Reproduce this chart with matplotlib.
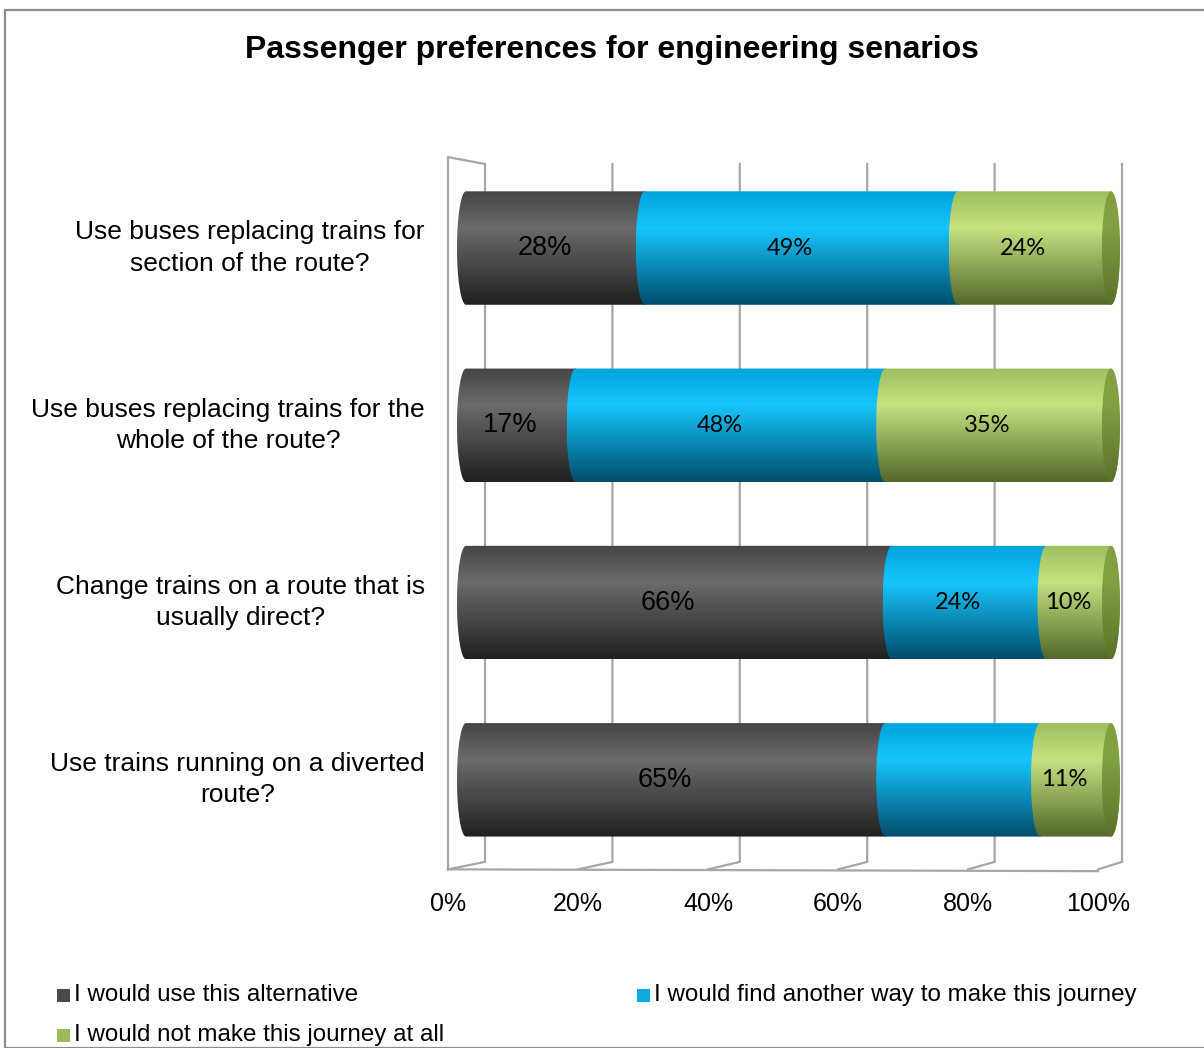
import matplotlib.pyplot as plt
import numpy as np
from matplotlib.patches import Polygon, Ellipse, Rectangle
from matplotlib.colors import to_rgb

# ---- data ----
categories = ["Use buses replacing trains for\nsection of the route?",
              "Use buses replacing trains for the\nwhole of the route?",
              "Change trains on a route that is\nusually direct?",
              "Use trains running on a diverted\nroute?"]
series_names = ["I would use this alternative",
                "I would find another way to make this journey",
                "I would not make this journey at all"]
use_alt = [28, 17, 66, 65]
other_way = [49, 48, 24, 24]
not_at_all = [24, 35, 10, 11]
hidden_labels = [(3, 1)]      # the blue label on the last row is not shown
tick_values = [0, 20, 40, 60, 80, 100]
tick_labels = ["0%", "20%", "40%", "60%", "80%", "100%"]

W, H = 1204, 1048
fig = plt.figure(figsize=(W / 100, H / 100), dpi=100)
fx = lambda px: px / W
fy = lambda py: 1 - py / H

# outer border
fig.patches.append(Rectangle((fx(5), 0), 1.0, fy(10), transform=fig.transFigure,
                             fill=False, ec="#8c8c8c", lw=1.6))

fig.text(fx(612), fy(50), "Passenger preferences for engineering senarios",
         ha="center", va="center", fontsize=23, fontweight="bold",
         family="Liberation Sans")

# axes: data x 0 -> px 466, 100 -> px 1111 ; rows spaced 177 px
ax = fig.add_axes([fx(440), fy(880), fx(1130) - fx(440), fy(150) - fy(880)])
ax.set_xlim(-4.03, 102.95)
ax.set_ylim(3.565, -0.553)
ax.axis("off")

# ---- 3D style frame (back wall gridlines + floor) ----
back = lambda v: 2.95 + 0.9876 * v
front = lambda v: -2.79 + 1.0078 * v
y_top_back, y_top_front = -0.474, -0.513
y_floor_back, y_floor_front = 3.463, 3.505
gc = "#a6a6a6"
for v in tick_values:
    ax.plot([back(v), back(v), front(v)], [y_top_back, y_floor_back, y_floor_front],
            color=gc, lw=1.6, zorder=1, clip_on=False, solid_joinstyle="miter")
ax.plot([front(0), front(0), back(0)], [y_floor_front, y_top_front, y_top_back],
        color=gc, lw=1.6, zorder=1, clip_on=False)
ax.plot([front(0), front(100)], [y_floor_front, y_floor_front + 0.01],
        color=gc, lw=1.6, zorder=1, clip_on=False)
for v, lab in zip(tick_values, tick_labels):
    ax.text(front(v), 3.70, lab, ha="center", va="center", fontsize=18,
            family="Liberation Sans", clip_on=False)

# ---- cylinders ----
grads = [("#454545", "#6b6b6b", "#202020"),
         ("#00a2dc", "#16c6ff", "#004d6b"),
         ("#9fbf5e", "#c6e280", "#53682a")]
label_fonts = [("Liberation Sans", 19.5), ("Lato", 17), ("Lato", 17)]
cap_colors = ("#80a042", "#5a7228")


def gradient(top, mid, bot, n=120):
    t = np.linspace(0, 1, n)
    a, b, c = np.array(to_rgb(top)), np.array(to_rgb(mid)), np.array(to_rgb(bot))
    out = np.empty((n, 1, 3))
    for i, tt in enumerate(t):
        if tt < 0.32:
            s = tt / 0.32
            out[i, 0] = a * (1 - s) + b * s
        else:
            s = (tt - 0.32) / 0.68
            out[i, 0] = b * (1 - s) + c * s
    return out


bar_h = 0.64
ew = 1.4  # half-width of the elliptical ends (data units)
lab_shift = -1.7  # labels sit a little left of the segment centre
th = np.linspace(np.pi / 2, 3 * np.pi / 2, 40)
data = np.array([use_alt, other_way, not_at_all], dtype=float)
totals = data.sum(axis=0)
for r in range(len(categories)):
    left = 0.0
    for s in range(3):
        w = data[s, r] / totals[r] * 100
        x0, x1 = left, left + w
        hh = bar_h / 2
        lx = x0 + ew * np.cos(th)
        ly = r - hh * np.sin(th)
        rx = x1 - ew * np.cos(th)
        ry = r + hh * np.sin(th)
        pts = np.column_stack([np.r_[lx, rx], np.r_[ly, ry]])
        poly = Polygon(pts, closed=True, fc="none", ec="none", zorder=3 + s)
        ax.add_patch(poly)
        im = ax.imshow(gradient(*grads[s]), extent=(x0 - ew, x1 + ew, r + hh, r - hh),
                       origin="upper", aspect="auto", zorder=3 + s, interpolation="bilinear")
        im.set_clip_path(poly)
        if s == 2:
            cap = Ellipse((x1, r), 2 * ew, bar_h, fc="none", ec="none", zorder=6)
            ax.add_patch(cap)
            imc = ax.imshow(gradient(cap_colors[0], cap_colors[0], cap_colors[1]),
                            extent=(x1 - ew, x1 + ew, r + hh, r - hh),
                            origin="upper", aspect="auto", zorder=6)
            imc.set_clip_path(cap)
        if (r, s) not in hidden_labels:
            fam, fs = label_fonts[s]
            ax.text((x0 + x1) / 2 + lab_shift, r, f"{int(data[s, r])}%", ha="center",
                    va="center", fontsize=fs, family=fam, zorder=10)
        left = x1
    ax.text(-6.36, r, categories[r], ha="right", va="center", multialignment="center",
            fontsize=19, family="Liberation Sans", linespacing=1.38, clip_on=False)

ax.set_xlim(-4.03, 102.95)
ax.set_ylim(3.565, -0.553)

# ---- legend ----
leg_cols = ["#4a4a4a", "#0fa8e0", "#9bbb59"]
leg_pos = [(57, 995), (637, 995), (57, 1035)]
for name, col, (px, py) in zip(series_names, leg_cols, leg_pos):
    fig.patches.append(Rectangle((fx(px), fy(py + 6.5)), fx(13), 13 / H,
                                 transform=fig.transFigure, fc=col, ec="none"))
    fig.text(fx(px + 17), fy(py), name, ha="left", va="center", fontsize=17.4,
             family="Liberation Sans")

fig.savefig("out.png", dpi=100)
